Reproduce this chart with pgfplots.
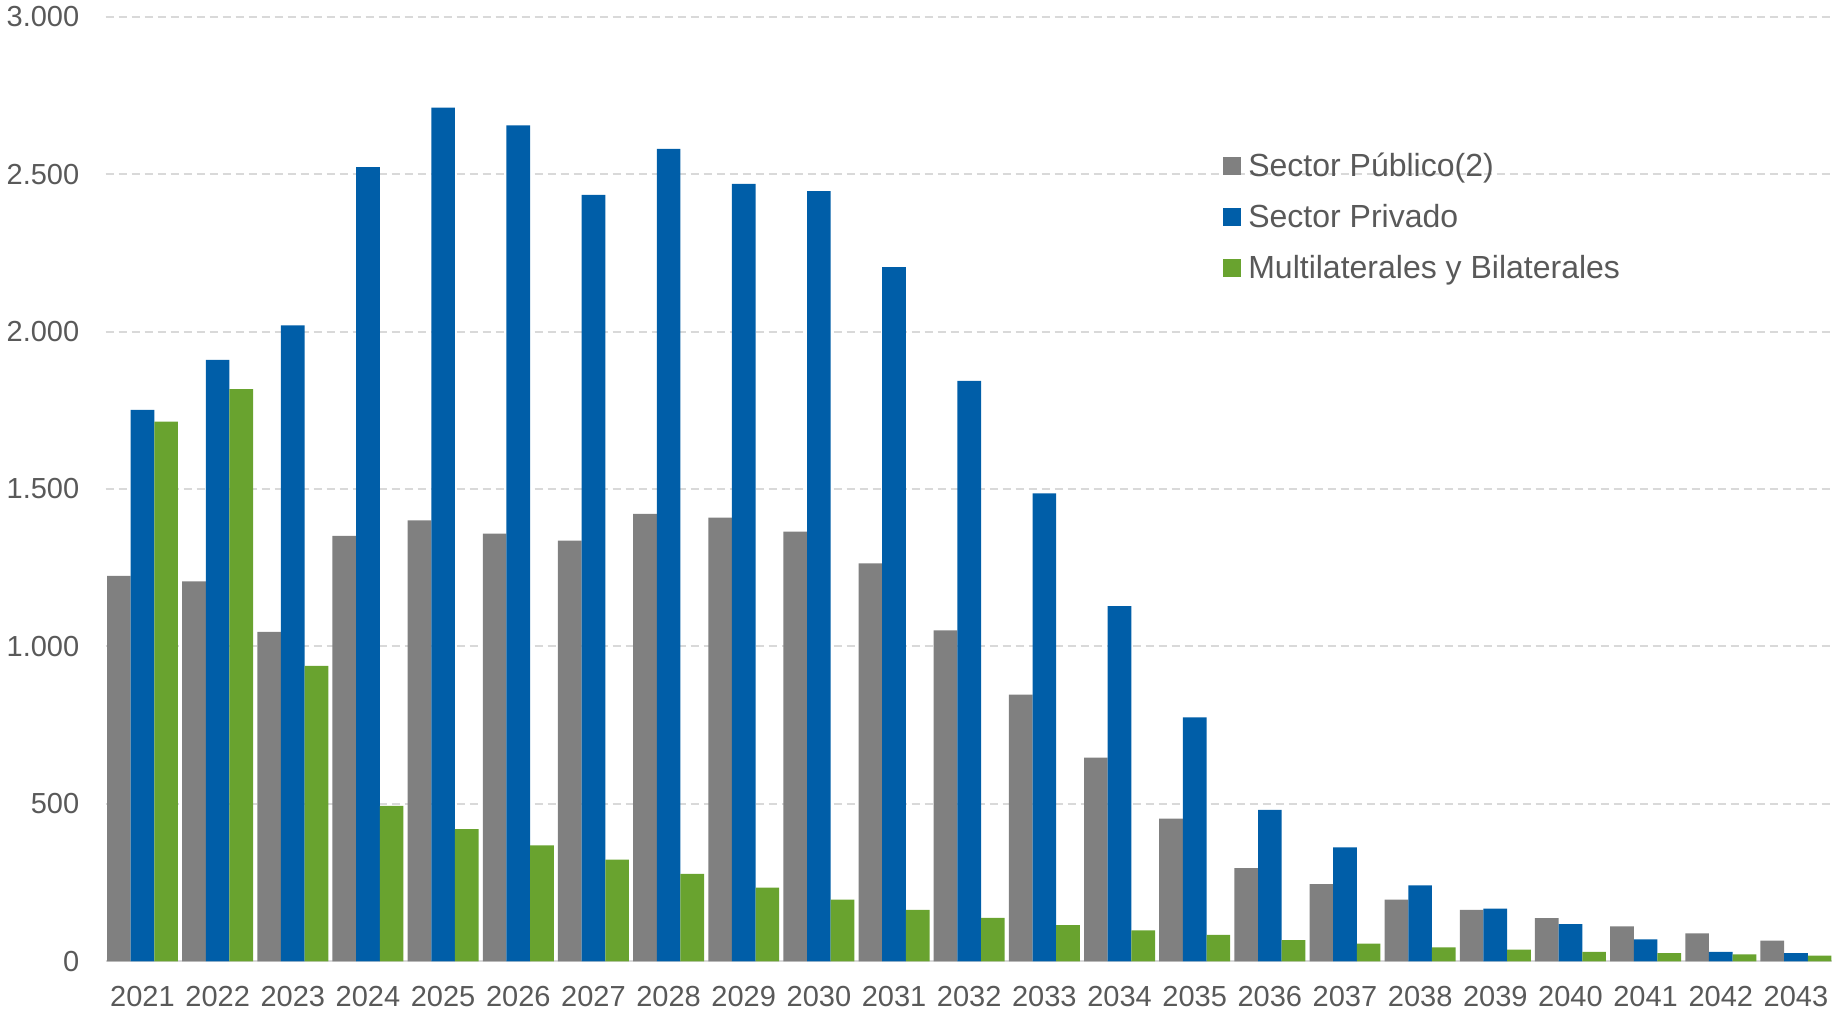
\documentclass[border=0pt]{standalone}
\usepackage{pgfplots}
\pgfplotsset{compat=1.18}
\usepackage{fontspec}
\setmainfont{Liberation Sans}
\definecolor{cgray}{HTML}{808080}
\definecolor{cblue}{HTML}{005EA8}
\definecolor{cgreen}{HTML}{69A32F}
\definecolor{cgrid}{HTML}{D9D9D9}
\definecolor{ctext}{HTML}{595959}
\begin{document}
\begin{tikzpicture}
\path[use as bounding box] (0,0) rectangle (916pt,506pt);
\begin{axis}[
  at={(52.8pt,25.35pt)}, anchor=south west,
  scale only axis, width=863.2pt, height=472.3pt,
  xmin=-0.491, xmax=22.48, ymin=0, ymax=3000,
  ybar=0pt, bar width=11.83pt,
  axis x line*=bottom, axis y line*=left,
  y axis line style={draw=none},
  x axis line style={draw=cgrid, line width=1pt},
  ymajorgrids, major grid style={cgrid, line width=1pt, dash pattern=on 4pt off 2.5pt},
  major tick length=0pt,
  xtick={0,...,22},
  xticklabels={2021,2022,2023,2024,2025,2026,2027,2028,2029,2030,2031,2032,2033,2034,2035,2036,2037,2038,2039,2040,2041,2042,2043},
  ytick={0,500,1000,1500,2000,2500,3000},
  yticklabels={0,500,1.000,1.500,2.000,2.500,3.000},
  tick label style={font=\fontsize{14.5}{17}\selectfont, text=ctext, inner sep=0pt},
  xticklabel style={anchor=north, yshift=-12.4pt},
  yticklabel style={anchor=east, xshift=-13pt},
  legend style={at={(0.6472,0.8566)}, anchor=north west, draw=none, fill=none, inner sep=0pt,
    row sep=12.45pt, font=\fontsize{16}{19}\selectfont, text=ctext,
    nodes={inner sep=0pt}, /tikz/every odd column/.append style={column sep=3.5pt}},
  legend cell align=left,
  legend image code/.code={\fill[#1] (0pt,-4.5pt) rectangle (9pt,4.5pt);},
]
\addplot[fill=cgray, draw=none] coordinates {
(0,1224) (1,1207) (2,1046) (3,1351) (4,1400) (5,1358) (6,1336) (7,1421) (8,1409) (9,1365) (10,1264) (11,1051) (12,847) (13,647) (14,453) (15,296) (16,245) (17,196) (18,163) (19,137) (20,111) (21,89) (22,66)};
\addplot[fill=cblue, draw=none] coordinates {
(0,1751) (1,1910) (2,2020) (3,2522) (4,2711) (5,2655) (6,2434) (7,2580) (8,2469) (9,2446) (10,2205) (11,1843) (12,1486) (13,1128) (14,775) (15,481) (16,362) (17,241) (18,167) (19,118) (20,70) (21,30) (22,26)};
\addplot[fill=cgreen, draw=none] coordinates {
(0,1714) (1,1817) (2,938) (3,494) (4,420) (5,368) (6,323) (7,278) (8,234) (9,196) (10,163) (11,138) (12,115) (13,98) (14,84) (15,67) (16,56) (17,44) (18,37) (19,30) (20,26) (21,22) (22,18)};
\legend{Sector Público(2),Sector Privado,Multilaterales y Bilaterales}
\end{axis}
\end{tikzpicture}
\end{document}
